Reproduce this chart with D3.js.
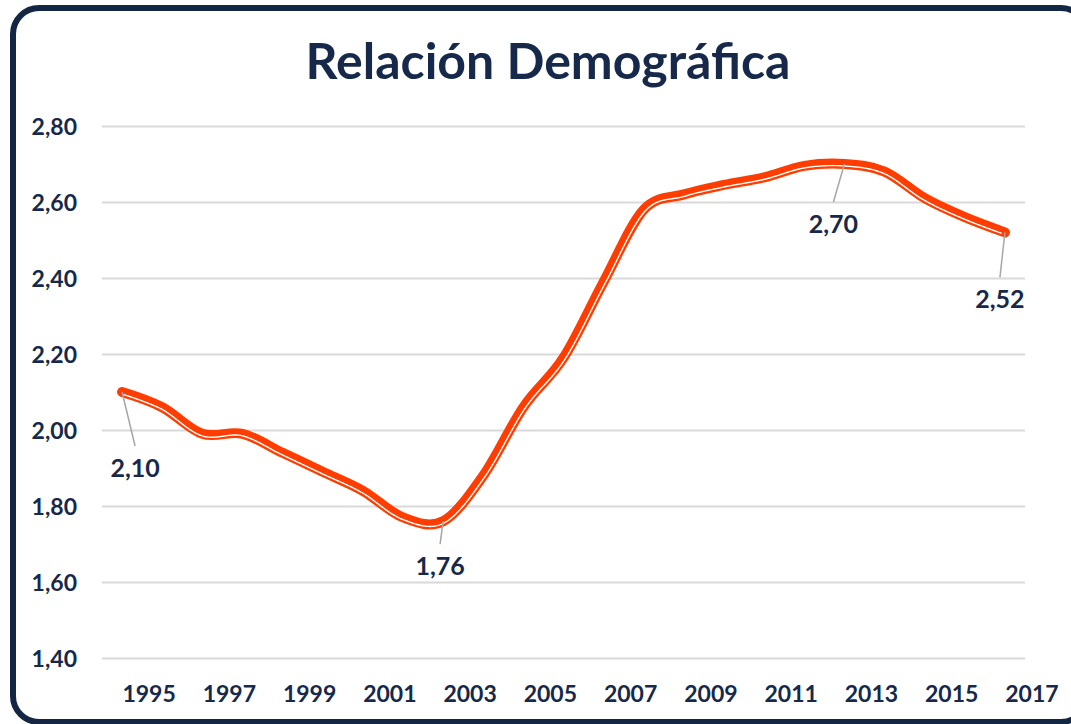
<!DOCTYPE html>
<html>
<head>
<meta charset="utf-8">
<script src="https://cdnjs.cloudflare.com/ajax/libs/d3/7.8.5/d3.min.js"></script>
<style>
body{margin:0;background:#fff;}
svg{display:block;font-family:Lato,"Open Sans",sans-serif;font-weight:bold;}
</style>
</head>
<body>
<svg id="chart" width="1071" height="724"></svg>
<script>
// chart data
var years = [1995,1996,1997,1998,1999,2000,2001,2002,2003,2004,2005,2006,
             2007,2008,2009,2010,2011,2012,2013,2014,2015,2016,2017];
var ratio = [2.10,2.06,1.99,1.99,1.94,1.89,1.84,1.77,1.76,1.88,2.06,2.19,
             2.39,2.58,2.62,2.645,2.665,2.695,2.70,2.68,2.61,2.56,2.52];
var yTicks = [1.40,1.60,1.80,2.00,2.20,2.40,2.60,2.80];
var xTickYears = [1995,1997,1999,2001,2003,2005,2007,2009,2011,2013,2015,2017];
var labelYears = [1995,2003,2013,2017];

// where each data label sits relative to its point
var labelOffsets = [[13,76],[-3,45],[-11,60],[-5,67]];

var navy = "#16294a";
var orange = "#ff3d00";

var svg = d3.select("#chart");

// frame
svg.append("rect")
    .attr("x",13).attr("y",8)
    .attr("width",1074).attr("height",714)
    .attr("rx",26).attr("ry",26)
    .attr("fill","#fff")
    .attr("stroke","#132744")
    .attr("stroke-width",6);

// title
svg.append("text")
    .attr("x",548).attr("y",79)
    .attr("text-anchor","middle")
    .attr("font-size",50)
    .attr("fill",navy)
    .text("Relación Demográfica");

var plotLeft = 102, plotRight = 1025, plotTop = 126, plotBottom = 658;

var x = d3.scalePoint().domain(years).range([plotLeft,plotRight]).padding(0.5);
var y = d3.scaleLinear().domain([1.4,2.8]).range([plotBottom,plotTop]);

var comma = d3.formatLocale({decimal:",",thousands:".",grouping:[3],currency:["",""]}).format(".2f");

// y axis with gridlines
var yAxis = d3.axisLeft(y)
    .tickValues(yTicks)
    .tickSize(-(plotRight-plotLeft))
    .tickPadding(25)
    .tickFormat(comma);
var gy = svg.append("g")
    .attr("transform","translate("+plotLeft+",0)")
    .call(yAxis);
gy.select(".domain").remove();
gy.selectAll(".tick line").attr("stroke","#d9d9d9").attr("stroke-width",2);
gy.selectAll(".tick text")
    .attr("fill",navy)
    .attr("font-size",23)
    .attr("font-family","Lato, 'Open Sans', sans-serif")
    .attr("font-weight","bold")
    .attr("dy",null)
    .attr("y",8);

// x axis (labels sit a bit right of the points, like the original)
var xAxis = d3.axisBottom(x).tickValues(xTickYears).tickSize(0);
var gx = svg.append("g")
    .attr("transform","translate(0,"+plotBottom+")")
    .call(xAxis);
gx.select(".domain").remove();
gx.selectAll(".tick text")
    .attr("fill",navy)
    .attr("font-size",23)
    .attr("font-family","Lato, 'Open Sans', sans-serif")
    .attr("font-weight","bold")
    .attr("dy",null)
    .attr("y",44)
    .attr("x",26.5);

// main line
var line = d3.line()
    .x(function(d,i){ return x(years[i]); })
    .y(function(d){ return y(d); })
    .curve(d3.curveCardinal.tension(0));

var mainPath = svg.append("path")
    .datum(ratio)
    .attr("d",line)
    .attr("fill","none")
    .attr("stroke",orange)
    .attr("stroke-width",10)
    .attr("stroke-linecap","round")
    .attr("stroke-linejoin","round");

// thin white stripe offset to the lower side (compound line look)
var node = mainPath.node();
var len = node.getTotalLength();
var pts = [];
for (var s = 0; s <= len; s += 1) {
    var p = node.getPointAtLength(s);
    pts.push([p.x,p.y]);
}
var off = [];
for (var i = 0; i < pts.length; i++) {
    var a = pts[Math.max(i-2,0)], b = pts[Math.min(i+2,pts.length-1)];
    var dx = b[0]-a[0], dy = b[1]-a[1], n = Math.hypot(dx,dy) || 1;
    off.push([pts[i][0]-dy/n*2, pts[i][1]+dx/n*2]);
}
svg.append("path")
    .attr("d",d3.line()(off.slice(2,off.length-2)))
    .attr("fill","none")
    .attr("stroke","#fff")
    .attr("stroke-width",1.4);

// data labels with leader lines
labelYears.forEach(function(yr,k){
    var i = years.indexOf(yr);
    var px = x(yr), py = y(ratio[i]);
    var lx = px + labelOffsets[k][0], ly = py + labelOffsets[k][1];
    svg.append("line")
        .attr("x1",px).attr("y1",py)
        .attr("x2",lx).attr("y2",ly-22)
        .attr("stroke","#a6a6a6")
        .attr("stroke-width",1.5);
    svg.append("text")
        .attr("x",lx).attr("y",ly+9)
        .attr("text-anchor","middle")
        .attr("font-size",25)
        .attr("fill",navy)
        .text(comma(ratio[i]));
});
</script>
</body>
</html>
